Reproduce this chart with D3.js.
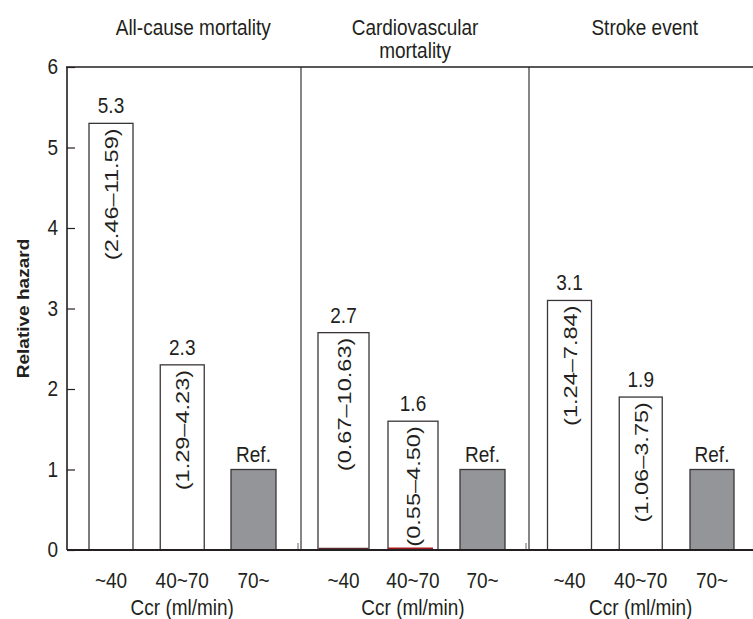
<!DOCTYPE html>
<html>
<head>
<meta charset="utf-8">
<script src="https://cdn.jsdelivr.net/npm/d3@7"></script>
<style>
  body { margin: 0; background: #fff; }
  text { font-family: "Liberation Sans", Arial, sans-serif; fill: #231f20; }
</style>
</head>
<body>
<svg id="chart" width="753" height="619"></svg>
<script>
    // data
    var categories = ["~40", "40~70", "70~"];
    var panelTitles = [["All-cause mortality"], ["Cardiovascular", "mortality"], ["Stroke event"]];
    var allCause = [5.3, 2.3, 1];
    var cardio = [2.7, 1.6, 1];
    var stroke = [3.1, 1.9, 1];
    var allCauseLabels = ["5.3", "2.3", "Ref."];
    var cardioLabels = ["2.7", "1.6", "Ref."];
    var strokeLabels = ["3.1", "1.9", "Ref."];
    var allCauseCI = ["(2.46\u201311.59)", "(1.29\u20134.23)", ""];
    var cardioCI = ["(0.67\u201310.63)", "(0.55\u20134.50)", ""];
    var strokeCI = ["(1.24\u20137.84)", "(1.06\u20133.75)", ""];
    var yTicks = [0, 1, 2, 3, 4, 5, 6];

    var svg = d3.select("#chart");
    var ink = "#231f20";
    var fontSize = 19;
    var stretch = 1.2; // the figure's lettering is taller than it is wide

    var y = d3.scaleLinear().domain([0, 6]).range([550, 67]);

    // panel layout (centres of first/last bar, bar widths)
    var panels = [
        { values: allCause, labels: allCauseLabels, ci: allCauseCI, title: panelTitles[0], centre: [111, 253.5], widths: [44, 44, 45], titleShift: 11 },
        { values: cardio, labels: cardioLabels, ci: cardioCI, title: panelTitles[1], centre: [343.5, 482.5], widths: [51, 50, 45], titleShift: 2 },
        { values: stroke, labels: strokeLabels, ci: strokeCI, title: panelTitles[2], centre: [569.5, 712], widths: [44, 43, 44], titleShift: 4 }
    ];

    var label = function(parent, x, yy, str, rotate) {
        return parent.append("text")
            .attr("transform", "translate(" + x + "," + yy + ") scale(1," + (rotate ? 1.24 : stretch) + ")" + (rotate ? " rotate(-90)" : ""))
            .attr("text-anchor", rotate ? "end" : "middle")
            .style("font-size", fontSize + "px")
            .text(str);
    };

    // y axis
    var yAxis = d3.axisLeft(y).tickValues(yTicks).tickFormat(d3.format("d"))
        .tickSize(-8).tickSizeOuter(0).tickPadding(9);
    var gy = svg.append("g").attr("transform", "translate(67,0)").call(yAxis);
    gy.select(".domain").remove();
    gy.selectAll("line").attr("stroke", ink).attr("stroke-width", 1.2);
    gy.selectAll("text").style("font-size", fontSize + "px").attr("fill", ink)
        .attr("dy", "0.3em").attr("transform", "scale(1," + stretch + ")");

    svg.append("text")
        .attr("transform", "translate(29," + y(3) + ") scale(1,1.12) rotate(-90)")
        .attr("text-anchor", "middle")
        .style("font-size", "17px")
        .style("font-weight", "bold")
        .text("Relative hazard");

    // frame
    svg.append("line").attr("x1", 67).attr("x2", 67).attr("y1", y(6)).attr("y2", y(0))
        .attr("stroke", ink).attr("stroke-width", 1.6);
    svg.append("line").attr("x1", 66).attr("x2", 753).attr("y1", y(6)).attr("y2", y(6))
        .attr("stroke", ink).attr("stroke-width", 1.3);

    [301, 529].forEach(function(sx) {
        svg.append("line").attr("x1", sx).attr("x2", sx).attr("y1", y(6)).attr("y2", y(0))
            .attr("stroke", ink).attr("stroke-width", 1.1);
        svg.append("line").attr("x1", sx - 3).attr("x2", sx - 3).attr("y1", y(0) - 7).attr("y2", y(0))
            .attr("stroke", "#666").attr("stroke-width", 1);
    });

    panels.forEach(function(p) {
        var x = d3.scalePoint().domain(categories).range(p.centre);
        var g = svg.append("g").attr("class", "panel");
        var mid = (p.centre[0] + p.centre[1]) / 2 + p.titleShift;

        // title
        p.title.forEach(function(t, i) {
            label(g, mid, 35 + i * 23, t);
        });

        categories.forEach(function(c, i) {
            var top = y(p.values[i]);
            g.append("rect")
                .attr("x", x(c) - p.widths[i] / 2)
                .attr("y", top)
                .attr("width", p.widths[i])
                .attr("height", y(0) - top)
                .attr("fill", i === 2 ? "#939598" : "#fff")
                .attr("stroke", "#3a3536")
                .attr("stroke-width", 1.3);

            label(g, x(c), top - (i === 2 ? 8 : 10), p.labels[i]);

            if (p.ci[i] !== "") {
                label(g, x(c) + 7, top + 5, p.ci[i], true);
            }

            // category label
            label(g, x(c), 588, c);
        });

        label(g, x(categories[1]), 615, "Ccr (ml/min)");
    });

    // dark red traces at the foot of the cardiovascular bars
    var xc = d3.scalePoint().domain(categories).range(panels[1].centre);
    svg.append("line").attr("x1", xc(categories[1]) - 25).attr("x2", xc(categories[1]) + 20)
        .attr("y1", y(0) - 1.5).attr("y2", y(0) - 1.5).attr("stroke", "#a3191c").attr("stroke-width", 2);
    svg.append("line").attr("x1", xc(categories[0]) - 25).attr("x2", xc(categories[0]) + 25)
        .attr("y1", y(0) - 1.5).attr("y2", y(0) - 1.5).attr("stroke", "#5b2a2a").attr("stroke-width", 1.5);

    // baseline
    svg.append("line").attr("x1", 67).attr("x2", 753).attr("y1", y(0)).attr("y2", y(0))
        .attr("stroke", ink).attr("stroke-width", 1.8);
</script>
</body>
</html>
